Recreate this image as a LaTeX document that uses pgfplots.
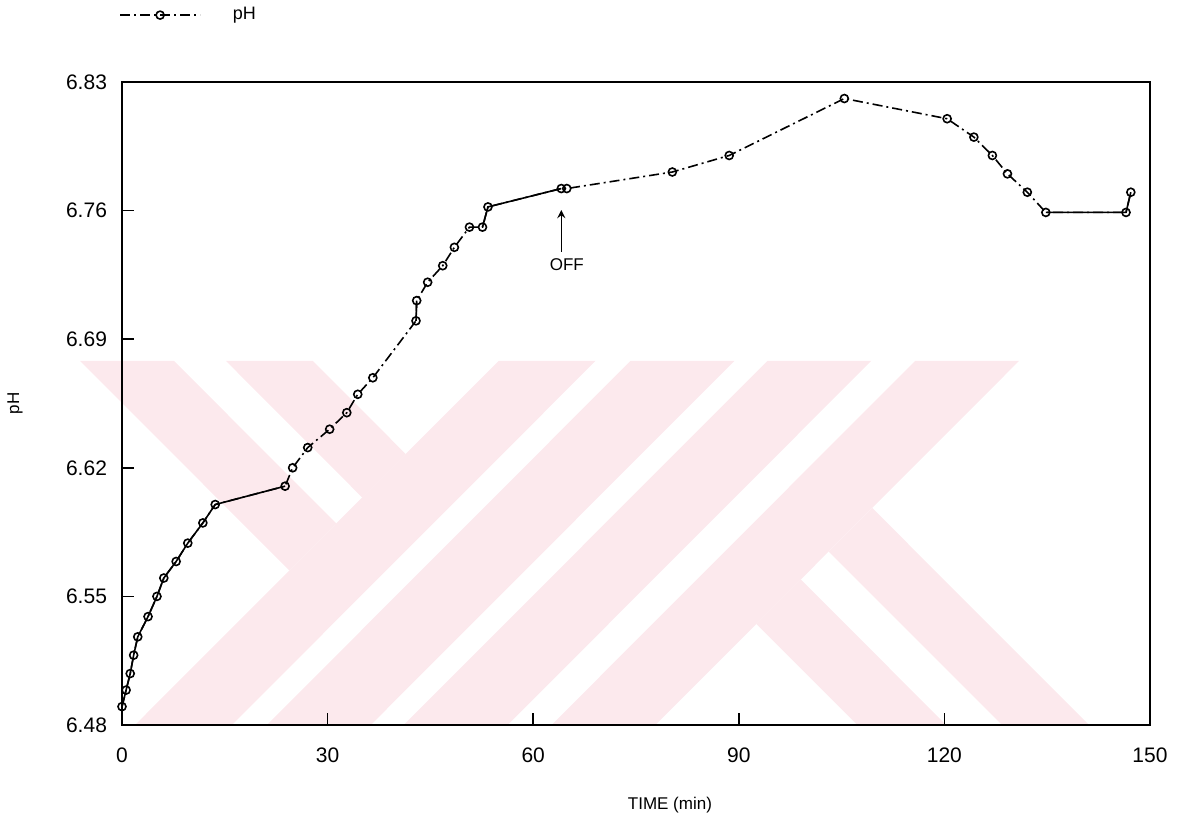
\documentclass[border=0pt]{standalone}
\usepackage{fontspec}
\setmainfont{Liberation Sans}
\usepackage{pgfplots}
\pgfplotsset{compat=1.18}
\usetikzlibrary{calc}
\definecolor{wm}{RGB}{252,233,237}
\begin{document}
\begin{tikzpicture}[x=1pt,y=1pt]
\begin{axis}[
  name=ax,
  scale only axis,
  width=514pt, height=321.5pt,
  xmin=0, xmax=150, ymin=6.48, ymax=6.83,
  clip=false,
  axis on top,
  axis line style={line width=0.9pt},
  xtick={0,30,60,90,120,150},
  ytick={6.48,6.55,6.62,6.69,6.76,6.83},
  yticklabels={6.48,6.55,6.62,6.69,6.76,6.83},
  xtick pos=bottom, ytick pos=left,
  tick align=inside,
  major tick length=6pt,
  tick style={line width=0.8pt, black},
  /pgf/number format/assume math mode=true,
  ticklabel style={font=\fontsize{10.5}{12}\selectfont},
  xticklabel style={yshift=-8pt},
  yticklabel style={xshift=-4pt},
  xlabel={TIME (min)},
  ylabel={pH},
  label style={font=\fontsize{8.5}{10}\selectfont},
  xlabel style={at={(axis description cs:0.533,0)}, anchor=center, yshift=-40pt},
  ylabel style={at={(axis description cs:-0.104,0.5)}, anchor=center},
  legend style={at={(axis description cs:-0.003,1.104)}, anchor=west, draw=none, fill=none,
    font=\fontsize{9}{10}\selectfont, column sep=14pt, inner sep=0pt},
  legend image code/.code={\draw[mark repeat=2,mark phase=2,#1] plot coordinates {(0pt,0pt) (20pt,0pt) (40pt,0pt)};},
]
% background watermark
\addplot[fill=wm, draw=none, forget plot] coordinates {(-6.12,6.6782) (7.58,6.6782) (31.27,6.5897) (24.42,6.5641)} -- cycle;
\addplot[fill=wm, draw=none, forget plot] coordinates {(15.16,6.6782) (27.84,6.6782) (41.40,6.6275) (35.06,6.6038)} -- cycle;
\addplot[fill=wm, draw=none, forget plot] coordinates {(54.96,6.6782) (69.10,6.6782) (16.03,6.48) (1.90,6.48)} -- cycle;
\addplot[fill=wm, draw=none, forget plot] coordinates {(74.20,6.6782) (89.36,6.6782) (36.30,6.48) (21.14,6.48)} -- cycle;
\addplot[fill=wm, draw=none, forget plot] coordinates {(94.17,6.6782) (109.33,6.6782) (56.27,6.48) (41.11,6.48)} -- cycle;
\addplot[fill=wm, draw=none, forget plot] coordinates {(115.74,6.6782) (130.90,6.6782) (77.84,6.48) (62.68,6.48)} -- cycle;
\addplot[fill=wm, draw=none, forget plot] coordinates {(92.57,6.5350) (99.05,6.5592) (120.26,6.48) (107.29,6.48)} -- cycle;
\addplot[fill=wm, draw=none, forget plot] coordinates {(103.13,6.5744) (109.48,6.5981) (141.11,6.48) (128.43,6.48)} -- cycle;
% solid segments
\addplot[black, line width=0.8pt, forget plot] coordinates {(0,6.490) (0.6,6.499) (1.2,6.508) (1.7,6.518) (2.3,6.528) (3.8,6.539) (5.1,6.550) (6.1,6.560) (7.9,6.569) (9.6,6.579) (11.8,6.590) (13.6,6.600) (23.8,6.610)};
\addplot[black, line width=0.8pt, forget plot] coordinates {(42.9,6.700) (43.0,6.711)};
\addplot[black, line width=0.8pt, forget plot] coordinates {(52.6,6.751) (53.4,6.762) (64.1,6.772)};
\addplot[black, line width=0.8pt, forget plot] coordinates {(134.8,6.759) (146.5,6.759) (147.2,6.770)};
% main series
\addplot[black, line width=0.8pt, dash pattern=on 5pt off 2pt on 1pt off 2pt,
  mark=o, mark size=2pt, mark options={solid, line width=0.8pt}] coordinates {
(0,6.490) (0.6,6.499) (1.2,6.508) (1.7,6.518) (2.3,6.528) (3.8,6.539) (5.1,6.550) (6.1,6.560) (7.9,6.569) (9.6,6.579) (11.8,6.590) (13.6,6.600) (23.8,6.610) (24.9,6.620) (27.1,6.631) (30.3,6.641) (32.8,6.650) (34.4,6.660) (36.6,6.669) (42.9,6.700) (43.0,6.711) (44.6,6.721) (46.8,6.730) (48.5,6.740) (50.7,6.751) (52.6,6.751) (53.4,6.762) (64.1,6.772) (64.9,6.772) (80.3,6.781) (88.6,6.790) (105.4,6.821) (120.4,6.810) (124.3,6.800) (127.0,6.790) (129.2,6.780) (132.1,6.770) (134.8,6.759) (146.5,6.759) (147.2,6.770)
};
\addlegendentry{pH}
\draw[->, line width=0.8pt, >=stealth] (axis cs:64.1,6.7375) -- (axis cs:64.1,6.7603);
\node[font=\fontsize{8.5}{10}\selectfont, anchor=center] at (axis cs:64.9,6.7304) {OFF};
\end{axis}
\pgfresetboundingbox
\path[use as bounding box] ($(ax.south west)+(-61pt,-46.5pt)$) rectangle ($(ax.north east)+(14.5pt,41pt)$);
\end{tikzpicture}
\end{document}
